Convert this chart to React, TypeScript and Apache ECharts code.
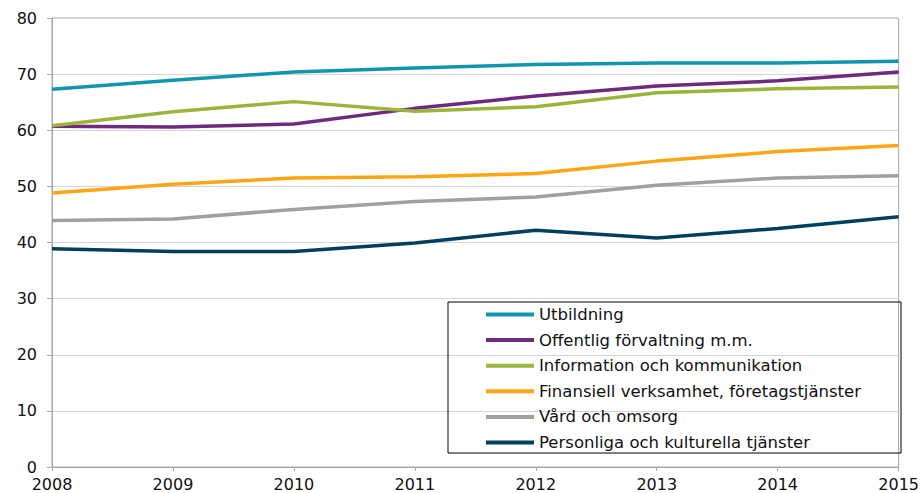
import React, { useEffect, useRef } from "react";
import * as echarts from "echarts";

const years = ["2008", "2009", "2010", "2011", "2012", "2013", "2014", "2015"];
const seriesNames = [
  "Utbildning",
  "Offentlig förvaltning m.m.",
  "Information och kommunikation",
  "Finansiell verksamhet, företagstjänster",
  "Vård och omsorg",
  "Personliga och kulturella tjänster",
];
const utbildning = [67.3, 68.9, 70.4, 71.1, 71.7, 72.0, 72.0, 72.3];
const offentlig = [60.7, 60.6, 61.1, 63.9, 66.1, 67.9, 68.8, 70.4];
const information = [60.8, 63.3, 65.1, 63.4, 64.2, 66.7, 67.4, 67.7];
const finansiell = [48.8, 50.4, 51.5, 51.7, 52.3, 54.5, 56.2, 57.3];
const vard = [43.9, 44.2, 45.9, 47.3, 48.1, 50.2, 51.5, 51.9];
const personliga = [38.9, 38.4, 38.4, 39.9, 42.2, 40.8, 42.5, 44.6];
const colors = ["#1196ab", "#6e2a7e", "#9bb53c", "#ffa514", "#a0a0a0", "#00405f"];

const FONT = "'DejaVu Sans', sans-serif";

export default function App() {
  const ref = useRef<HTMLDivElement>(null);
  useEffect(() => {
    document.body.style.margin = "0";
    const chart = echarts.init(ref.current!, null, { renderer: "svg" });
    const values = [utbildning, offentlig, information, finansiell, vard, personliga];
    chart.setOption({
      animation: false,
      backgroundColor: "#ffffff",
      grid: {
        left: 52,
        top: 18,
        right: 21,
        bottom: 26,
        show: true,
        borderColor: "#a6a6a6",
        borderWidth: 1,
      },
      xAxis: {
        type: "category",
        data: years,
        boundaryGap: false,
        axisLine: { lineStyle: { color: "#a6a6a6", width: 1 } },
        axisTick: { show: true, length: 4, lineStyle: { color: "#a6a6a6" } },
        axisLabel: { color: "#111111", fontFamily: FONT, fontSize: 16, margin: 9 },
        splitLine: { show: false },
      },
      yAxis: {
        type: "value",
        min: 0,
        max: 80,
        interval: 10,
        axisLine: { show: true, lineStyle: { color: "#a6a6a6", width: 1 } },
        axisTick: { show: true, length: 5, lineStyle: { color: "#a6a6a6" } },
        axisLabel: { color: "#111111", fontFamily: FONT, fontSize: 16, margin: 15 },
        splitLine: { show: true, lineStyle: { color: "#d4d4d4", width: 1 } },
      },
      legend: {
        orient: "vertical",
        left: 486,
        top: 306,
        padding: 0,
        itemWidth: 48,
        itemHeight: 4,
        itemGap: 8.6,
        icon: "rect",
        textStyle: { fontFamily: FONT, fontSize: 16.5, color: "#111111", lineHeight: 16 },
        data: seriesNames,
      },
      graphic: [
        {
          type: "rect",
          shape: { x: 448, y: 302, width: 453, height: 151 },
          style: { fill: "none", stroke: "#000000", lineWidth: 1 },
          z: 5,
        },
      ],
      series: seriesNames.map((name, i) => ({
        name,
        type: "line",
        data: values[i],
        showSymbol: false,
        symbol: "none",
        lineStyle: { color: colors[i], width: 3.5 },
        itemStyle: { color: colors[i] },
      })),
    });
    return () => chart.dispose();
  }, []);
  return <div ref={ref} style={{ width: 922, height: 493 }} />;
}
